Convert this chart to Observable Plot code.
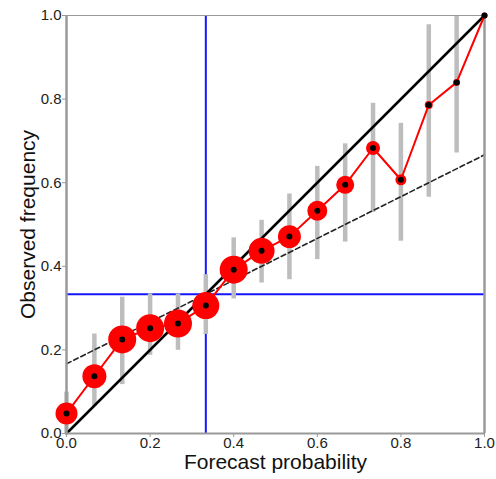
<!DOCTYPE html>
<html>
<head>
<meta charset="utf-8">
<script src="https://cdn.jsdelivr.net/npm/d3@7"></script>
<script src="https://cdn.jsdelivr.net/npm/@observablehq/plot@0.6"></script>
<style>
  html, body { margin: 0; padding: 0; background: #fff; }
  #chart svg { display: block; }
</style>
</head>
<body>
<div id="chart"></div>
<script>
// Forecast probability bins
const forecast = [0, 0.0667, 0.1333, 0.2, 0.2667, 0.3333, 0.4, 0.4667, 0.5333, 0.6, 0.6667, 0.7333, 0.8, 0.8667, 0.9333, 1.0];
// Observed frequency
const observed = [0.048, 0.137, 0.225, 0.252, 0.263, 0.306, 0.392, 0.437, 0.471, 0.533, 0.595, 0.683, 0.607, 0.786, 0.840, 1.0];
// Consistency bar bounds
const lower = [0.0, 0.065, 0.117, 0.187, 0.199, 0.237, 0.322, 0.360, 0.368, 0.416, 0.458, 0.529, 0.460, 0.565, 0.671, null];
const upper = [0.099, 0.238, 0.326, 0.334, 0.334, 0.380, 0.468, 0.510, 0.573, 0.639, 0.693, 0.790, 0.742, 0.978, 1.0, null];
// Relative sample counts (drive dot area)
const counts = [121, 144, 196, 196, 196, 182, 196, 169, 132, 100, 81, 49, 30, 16, 12, 9];
// Climatology
const climatology = 0.3333;
const ticks = [0, 0.2, 0.4, 0.6, 0.8, 1.0];

const data = forecast.map((f, i) => ({f, o: observed[i], lo: lower[i], hi: upper[i], n: counts[i]}));
const bars = data.filter(d => d.lo != null);
const diag = [{x: 0, y: 0}, {x: 1, y: 1}];
const noSkill = [0, 1].map(x => ({x, y: (x + climatology) / 2}));

const chart = Plot.plot({
  width: 496,
  height: 479,
  marginLeft: 66,
  marginRight: 12,
  marginTop: 15,
  marginBottom: 46,
  style: {fontFamily: "'Liberation Sans', Arial, sans-serif", fontSize: "15px", color: "#222", background: "#fff"},
  x: {domain: [0, 1], ticks: ticks, tickFormat: ".1f", label: null},
  y: {domain: [0, 1], ticks: ticks, tickFormat: ".1f", label: null},
  r: {type: "sqrt", domain: [0, 196], range: [0, 14]},
  marks: [
    Plot.ruleX([climatology], {stroke: "#1414ff", strokeWidth: 2}),
    Plot.ruleY([climatology], {stroke: "#1414ff", strokeWidth: 2}),
    Plot.ruleX(bars, {x: "f", y1: "lo", y2: "hi", stroke: "#bdbdbd", strokeWidth: 4.5}),
    Plot.line(diag, {x: "x", y: "y", stroke: "#000", strokeWidth: 2.5}),
    Plot.line(noSkill, {x: "x", y: "y", stroke: "#222", strokeWidth: 1.6, strokeDasharray: "5,3"}),
    Plot.ruleX([0, 1], {stroke: "#9a9a9a", strokeWidth: 2.5}),
    Plot.ruleY([0], {stroke: "#9a9a9a", strokeWidth: 2}),
    Plot.ruleY([1], {stroke: "#9a9a9a", strokeWidth: 1.2}),
    Plot.axisX({ticks: ticks, tickFormat: ".1f", tickSize: 4, tickPadding: 0, stroke: "#9a9a9a", fill: "#222", label: null, fontSize: 15, style: {letterSpacing: "1.2px"}}),
    Plot.axisY({ticks: ticks, tickFormat: ".1f", tickSize: 4, tickPadding: 1, stroke: "#9a9a9a", fill: "#222", label: null, fontSize: 15, style: {letterSpacing: "1.2px"}}),
    Plot.line(data, {x: "f", y: "o", stroke: "#ff0000", strokeWidth: 2}),
    Plot.dot(data, {x: "f", y: "o", r: "n", fill: "#ff0000", stroke: null}),
    Plot.dot(data, {x: "f", y: "o", r: 3, fill: "#000", stroke: null}),
    Plot.text(["Forecast probability"], {frameAnchor: "bottom", textAnchor: "middle", dy: 35, fontSize: 21, fill: "#111", style: {letterSpacing: "0.6px"}}),
    Plot.text(["Observed frequency"], {frameAnchor: "left", textAnchor: "middle", dx: -38, rotate: -90, fontSize: 21, fill: "#111"})
  ]
});
document.getElementById("chart").appendChild(chart);
</script>
</body>
</html>
